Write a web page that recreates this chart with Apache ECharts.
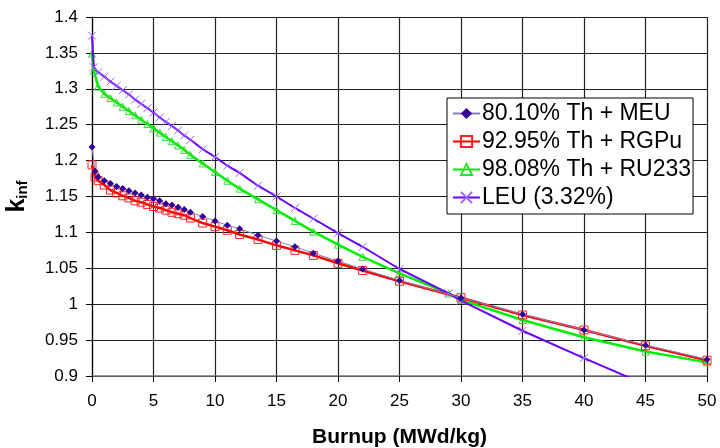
<!DOCTYPE html>
<html>
<head>
<meta charset="utf-8">
<script src="https://cdn.jsdelivr.net/npm/echarts@6/dist/echarts.min.js"></script>
<style>
  html, body { margin: 0; padding: 0; background: #fff; }
  #chart { width: 720px; height: 448px; }
</style>
</head>
<body>
<div id="chart"></div>
<script>
// burnup steps (MWd/kg) and k-inf
const burnupMeu = [0, 0.25, 0.5, 1, 1.5, 2, 2.5, 3, 3.5, 4, 4.5, 5, 5.5, 6, 6.5, 7, 7.5, 8, 9, 10, 11, 12, 13.5, 15, 16.5, 18, 20, 22, 25, 30, 35, 40, 45, 50];
const kMeu = [1.219, 1.185, 1.177, 1.172, 1.168, 1.164, 1.161, 1.158, 1.155, 1.152, 1.149, 1.147, 1.144, 1.140, 1.138, 1.135, 1.132, 1.128, 1.122, 1.116, 1.110, 1.105, 1.096, 1.088, 1.080, 1.071, 1.060, 1.049, 1.033, 1.009, 0.986, 0.964, 0.943, 0.923];
const kRgpu = [1.194, 1.177, 1.172, 1.166, 1.159, 1.155, 1.151, 1.148, 1.144, 1.142, 1.139, 1.136, 1.134, 1.131, 1.128, 1.126, 1.124, 1.120, 1.113, 1.108, 1.103, 1.097, 1.090, 1.082, 1.075, 1.068, 1.057, 1.047, 1.032, 1.009, 0.985, 0.964, 0.942, 0.922];

const burnupRu = [0, 0.15, 0.5, 1, 1.5, 2, 2.5, 3, 3.5, 4, 4.5, 5, 5.5, 6, 6.5, 7, 7.5, 8, 9, 10, 11, 12, 13.5, 15, 16.5, 18, 20, 22, 25, 29, 30, 35, 40, 45, 50];
const kRu233 = [1.349, 1.325, 1.303, 1.293, 1.287, 1.281, 1.275, 1.269, 1.263, 1.257, 1.251, 1.245, 1.239, 1.233, 1.227, 1.221, 1.215, 1.208, 1.196, 1.184, 1.172, 1.161, 1.146, 1.131, 1.116, 1.101, 1.083, 1.066, 1.043, 1.015, 1.006, 0.978, 0.954, 0.934, 0.919];

const burnupLeu = [0, 0.15, 0.5, 1, 1.5, 2, 2.5, 3, 3.5, 4, 4.5, 5, 5.5, 6, 6.5, 7, 7.5, 8, 9, 10, 11, 12, 13.5, 15, 16.5, 18, 20, 22, 25, 29, 30, 35, 40, 45];
const kLeu = [1.374, 1.330, 1.323, 1.317, 1.310, 1.304, 1.298, 1.292, 1.285, 1.279, 1.273, 1.267, 1.260, 1.254, 1.248, 1.242, 1.235, 1.229, 1.216, 1.205, 1.193, 1.183, 1.165, 1.150, 1.134, 1.119, 1.099, 1.080, 1.049, 1.015, 1.005, 0.963, 0.925, 0.888];

const names = ['80.10% Th + MEU', '92.95% Th + RGPu', '98.08% Th + RU233', 'LEU (3.32%)'];

const pairs = (xs, ys) => xs.map((x, i) => [x, ys[i]]);
const FONT = '"Liberation Sans", Arial, sans-serif';

const chart = echarts.init(document.getElementById('chart'), null, { renderer: 'canvas' });

chart.setOption({
    animation: false,
    backgroundColor: '#fff',
    grid: { left: 92, right: 13, top: 17, bottom: 72, containLabel: false, outerBoundsMode: 'none' },
    xAxis: {
        type: 'value', min: 0, max: 50, interval: 5,
        name: 'Burnup (MWd/kg)', nameLocation: 'middle', nameGap: 51,
        nameTextStyle: { fontFamily: FONT, fontSize: 21, fontWeight: 'bold', color: '#000' },
        axisLine: { show: true, onZero: false, lineStyle: { color: '#777', width: 1.5 } },
        axisTick: { show: true, inside: false, length: 6, lineStyle: { color: '#000' } },
        axisLabel: { fontFamily: FONT, fontSize: 17, color: '#000', margin: 17 },
        splitLine: { show: true, lineStyle: { color: '#222', width: 1.2 } }
    },
    yAxis: {
        type: 'value', min: 0.9, max: 1.4, interval: 0.05,
        name: '{k|k}{s|inf}', nameLocation: 'middle', nameGap: 62, nameRotate: 90,
        nameTextStyle: {
            rich: {
                k: { fontFamily: FONT, fontSize: 25, fontWeight: 'bold', color: '#000', verticalAlign: 'bottom', lineHeight: 26 },
                s: { fontFamily: FONT, fontSize: 15, fontWeight: 'bold', color: '#000', verticalAlign: 'bottom', lineHeight: 16 }
            }
        },
        axisLine: { show: true, lineStyle: { color: '#000', width: 1.2 } },
        axisTick: { show: true, inside: false, length: 6, lineStyle: { color: '#000' } },
        axisLabel: { fontFamily: FONT, fontSize: 17, color: '#000', margin: 14,
            formatter: v => String(+v.toFixed(2)) },
        splitLine: { show: true, lineStyle: { color: '#222', width: 1.2 } }
    },
    legend: {
        orient: 'vertical', left: 447, top: 98,
        backgroundColor: '#fff', borderColor: '#000', borderWidth: 1,
        padding: [4, 2, 5, 5],
        itemWidth: 27, itemHeight: 14, itemGap: 5,
        textStyle: { fontFamily: FONT, fontSize: 23, lineHeight: 20, color: '#000', padding: [0, 0, 0, -3] },
        data: names
    },
    series: [
        {
            name: names[0], type: 'line', data: pairs(burnupMeu, kMeu),
            symbol: 'diamond', symbolSize: 7, z: 5,
            lineStyle: { color: '#8a7fb8', width: 1 },
            itemStyle: { color: '#330099' }
        },
        {
            name: names[1], type: 'line', data: pairs(burnupMeu, kRgpu),
            symbol: 'rect', symbolSize: 8, z: 3,
            lineStyle: { color: '#ff0000', width: 2.5 },
            itemStyle: { color: 'rgba(255,255,255,0)', borderColor: '#ff2020', borderWidth: 1 }
        },
        {
            name: names[2], type: 'line', data: pairs(burnupRu, kRu233),
            symbol: 'triangle', symbolSize: 7, z: 2,
            lineStyle: { color: '#00ee00', width: 2.5 },
            itemStyle: { color: 'rgba(255,255,255,0)', borderColor: '#33dd33', borderWidth: 1 }
        },
        {
            name: names[3], type: 'line', data: pairs(burnupLeu, kLeu),
            symbol: 'path://M0,0L10,10M10,0L0,10', symbolSize: 8, z: 4,
            lineStyle: { color: '#6a00ff', width: 2 },
            itemStyle: { color: 'rgba(255,255,255,0)', borderColor: '#9a66ff', borderWidth: 1 }
        }
    ]
});
</script>
</body>
</html>
